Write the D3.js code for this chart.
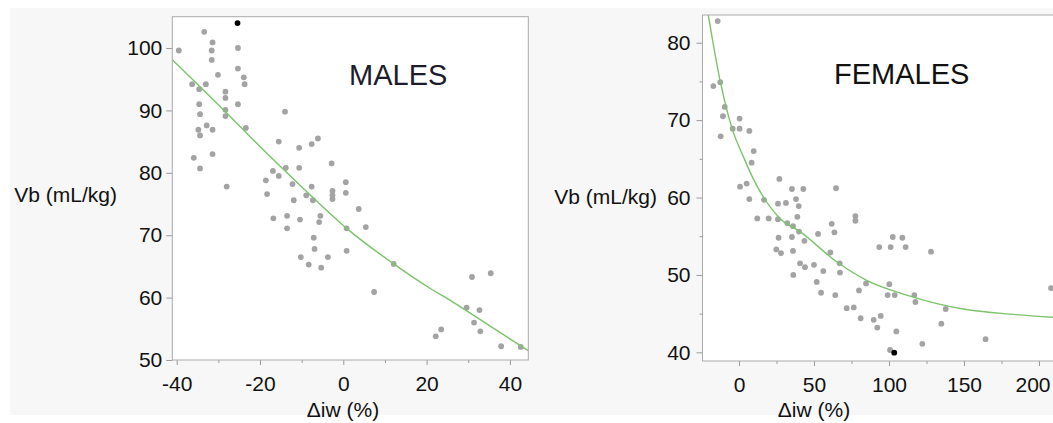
<!DOCTYPE html>
<html>
<head>
<meta charset="utf-8">
<script src="https://cdn.jsdelivr.net/npm/d3@7"></script>
<style>
  body { margin: 0; background: #fff; }
  text { font-family: "Liberation Sans", Arial, sans-serif; }
</style>
</head>
<body>
<svg id="chart" width="1053" height="423"></svg>
<script>
// ---- MALES data ----
var maleX = [-39.5, -33.4, -31.4, -31.6, -31.6, -30.1, -25.3, -25.3, -23.9, -23.7, -36.3, -34.6, -33.0, -28.3, -28.3,
  -28.3, -28.3, -34.6, -34.4, -25.3, -23.4, -34.8, -34.4, -32.8, -31.4, -35.9, -31.4, -34.4, -14.0, -15.5,
  -10.6, -7.6, -6.1, -13.8, -10.6, -2.8, -16.9, -18.6, -15.5, -12.2, -28.0, -7.6, 0.6, -18.3, 0.6,
  -2.6, -2.6, -2.6, -8.9, -11.9, -7.3, 3.7, -16.8, -13.5, -10.4, -5.5, -5.8, -13.5, 0.8, 5.4,
  -7.1, -6.9, 0.8, -10.2, -3.7, -8.3, -5.3, 12.1, 7.4, 30.9, 35.4, 29.6, 32.7, 31.4, 32.9,
  22.2, 23.5, 37.9, 42.6];
var maleY = [99.6, 102.6, 100.9, 99.6, 98.1, 95.7, 100.0, 96.7, 95.3, 94.2, 94.2, 93.4, 94.2, 93.0, 92.0,
  90.1, 89.1, 91.0, 89.4, 91.0, 87.2, 86.9, 86.0, 87.6, 86.9, 82.4, 83.0, 80.7, 89.8, 85.0,
  84.0, 84.6, 85.5, 80.8, 80.8, 81.5, 80.3, 78.8, 79.5, 78.2, 77.8, 77.8, 78.5, 76.6, 76.8,
  77.1, 76.4, 75.8, 76.4, 75.6, 75.6, 74.2, 72.7, 73.1, 72.5, 73.1, 72.1, 71.1, 71.1, 71.3,
  69.6, 67.8, 67.5, 66.5, 66.5, 65.3, 64.8, 65.4, 60.9, 63.3, 63.9, 58.4, 58.0, 56.0, 54.6,
  53.8, 54.9, 52.2, 52.1];
var maleHiX = [-25.4];
var maleHiY = [104.0];
var maleFitX = [-41, -28.3, -20, -9.6, 0.8, 12.1, 20.8, 25.6, 31.4, 44.4];
var maleFitY = [98.1, 89.8, 84.2, 77.5, 71.1, 65.4, 61.5, 59.6, 57.1, 51.5];
var maleXTicks = [-40, -20, 0, 20, 40];
var maleXMinor = [-30, -10, 10, 30];
var maleYTicks = [50, 60, 70, 80, 90, 100];
var maleYMinor = [];

// ---- FEMALES data ----
var femaleX = [-14.2, -17.1, -12.5, -9.5, -10.7, 0.4, -4.2, 0.4, 6.9, -12.2, 9.8, 8.4,
  0.7, 5.1, 6.9, 26.9, 35.3, 42.9, 64.7, 16.7, 26.0, 31.3, 38.0, 39.8, 12.2, 19.8, 26.0, 32.2, 36.0,
  38.9, 40.0, 35.3, 43.6, 52.7, 61.8, 63.6, 77.6, 77.6, 26.4, 24.9, 28.0, 36.0, 40.7, 44.0, 36.2,
  50.0, 56.2, 60.9, 67.1, 67.3, 51.8, 54.7, 64.2, 71.8, 76.5, 80.0, 84.7, 81.1, 89.8, 92.2, 94.5,
  93.5, 101.1, 102.5, 108.9, 111.1, 128.0, 100.2, 99.1, 103.8, 116.9, 117.6, 137.8, 134.9, 104.9,
  122.2, 164.4, 100.7, 208.0];
var femaleY = [82.8, 74.4, 74.9, 71.7, 70.5, 70.2, 68.9, 68.9, 68.6, 67.9, 66.0, 64.5,
  61.4, 61.8, 59.8, 62.4, 61.1, 61.1, 61.2, 59.7, 59.2, 59.3, 59.8, 58.9, 57.3, 57.3, 57.2, 56.7, 56.3,
  57.5, 55.6, 54.9, 54.4, 55.3, 56.6, 55.5, 57.6, 57.0, 54.8, 53.3, 52.8, 53.1, 51.5, 51.0, 50.0,
  51.3, 50.5, 52.9, 51.5, 50.3, 49.1, 47.7, 47.4, 45.7, 45.8, 48.0, 48.9, 44.4, 44.2, 43.2, 44.7,
  53.6, 53.6, 54.9, 54.8, 53.6, 53.0, 48.8, 47.4, 47.4, 47.4, 46.5, 45.6, 43.7, 42.7,
  41.1, 41.7, 40.3, 48.3];
var femaleHiX = [103.5];
var femaleHiY = [39.95];
var femaleFitX = [-20.5, -12.7, -4.9, 4, 6.2, 27.3, 40.7, 65.1, 85.1, 111.8, 149.5, 182.9, 212];
var femaleFitY = [83.6, 75.2, 69.1, 64.8, 63.8, 57.3, 55.6, 51.7, 49.3, 47.4, 45.6, 44.9, 44.5];
var femaleXTicks = [0, 50, 100, 150, 200];
var femaleXMinor = [25, 75, 125, 175];
var femaleYTicks = [40, 50, 60, 70, 80];
var femaleYMinor = [45, 55, 65, 75];

var svg = d3.select('#chart');
var W = 1053;

// plain hyphen minus like the original, not the unicode minus
function fmt(d) { return String(d); }

function drawPanel(p) {
  var g = svg.append('g');
  g.append('rect')
    .attr('x', p.bg[0]).attr('y', p.bg[1])
    .attr('width', p.bg[2]).attr('height', p.bg[3])
    .attr('fill', '#f7f7f7');

  var x = d3.scaleLinear().domain(p.xDomain).range([p.left, p.right]);
  var y = d3.scaleLinear().domain(p.yDomain).range([p.bottom, p.top]);

  var clipId = 'clip' + p.name;
  svg.append('clipPath').attr('id', clipId)
    .append('rect')
    .attr('x', p.left).attr('y', p.top)
    .attr('width', p.right - p.left).attr('height', p.bottom - p.top);

  g.append('rect')
    .attr('x', p.left).attr('y', p.top)
    .attr('width', p.right - p.left).attr('height', p.bottom - p.top)
    .attr('fill', '#fff');

  // axes
  var xa = g.append('g').attr('transform', 'translate(0,' + p.bottom + ')')
    .call(d3.axisBottom(x).tickValues(p.xTicks).tickSize(5).tickPadding(11).tickFormat(fmt));
  var xm = g.append('g').attr('transform', 'translate(0,' + p.bottom + ')')
    .call(d3.axisBottom(x).tickValues(p.xMinor).tickSize(3).tickFormat(''));
  var ya = g.append('g').attr('transform', 'translate(' + p.left + ',0)')
    .call(d3.axisLeft(y).tickValues(p.yTicks).tickSize(6).tickPadding(p.yPad).tickFormat(fmt));
  var ym = g.append('g').attr('transform', 'translate(' + p.left + ',0)')
    .call(d3.axisLeft(y).tickValues(p.yMinor).tickSize(3).tickFormat(''));
  [xa, xm, ya, ym].forEach(function (a) {
    a.select('.domain').remove();
    a.selectAll('line').attr('stroke', '#9a9a9a');
    a.selectAll('text').attr('font-size', 21).attr('fill', '#111')
      .style('font-family', '"Liberation Sans", Arial, sans-serif');
  });

  // keep x labels inside the window (the original pulls the last one in)
  xa.selectAll('.tick text').each(function (d) {
    var bb = this.getBBox();
    var over = x(d) + bb.width / 2 - (W - 3);
    if (over > 0) d3.select(this).attr('x', -over);
  });

  var plot = g.append('g').attr('clip-path', 'url(#' + clipId + ')');

  var pts = p.xs.map(function (d, i) { return [d, p.ys[i]]; });
  plot.selectAll('circle.pt').data(pts).enter().append('circle')
    .attr('class', 'pt')
    .attr('cx', function (d) { return x(d[0]); })
    .attr('cy', function (d) { return y(d[1]); })
    .attr('r', 2.9)
    .attr('fill', '#a3a3a3');

  var fit = p.fitX.map(function (d, i) { return [d, p.fitY[i]]; });
  plot.append('path')
    .datum(fit)
    .attr('fill', 'none')
    .attr('stroke', '#7cc36b')
    .attr('stroke-width', 1.4)
    .attr('d', d3.line().x(function (d) { return x(d[0]); }).y(function (d) { return y(d[1]); })
      .curve(d3.curveMonotoneX));

  var hi = p.hiX.map(function (d, i) { return [d, p.hiY[i]]; });
  plot.selectAll('circle.hi').data(hi).enter().append('circle')
    .attr('class', 'hi')
    .attr('cx', function (d) { return x(d[0]); })
    .attr('cy', function (d) { return y(d[1]); })
    .attr('r', 2.9)
    .attr('fill', '#000');

  // frame
  g.append('rect')
    .attr('x', p.left).attr('y', p.top)
    .attr('width', p.right - p.left).attr('height', p.bottom - p.top)
    .attr('fill', 'none').attr('stroke', '#ababab').attr('stroke-width', 1);

  g.append('text')
    .attr('x', p.titleX).attr('y', p.titleY)
    .attr('font-size', 29).attr('fill', p.titleColor)
    .text(p.title);

  g.append('text')
    .attr('x', p.yLabX).attr('y', p.yLabY)
    .attr('text-anchor', 'end').attr('dy', '0.35em')
    .attr('font-size', 21).attr('fill', '#111')
    .text('Vb (mL/kg)');

  g.append('text')
    .attr('x', (p.xLabX)).attr('y', 410)
    .attr('text-anchor', 'middle').attr('dy', '0.35em')
    .attr('font-size', 21).attr('fill', '#111')
    .text('\u0394iw (%)');
}

drawPanel({
  name: 'm', bg: [10, 8, 535, 407],
  left: 172.3, right: 528.3, top: 16.7, bottom: 360,
  xDomain: [-41.06, 44.42], yDomain: [50, 105.02],
  xTicks: maleXTicks, xMinor: maleXMinor, yTicks: maleYTicks, yMinor: maleYMinor, yPad: 4,
  xs: maleX, ys: maleY, hiX: maleHiX, hiY: maleHiY, fitX: maleFitX, fitY: maleFitY,
  title: 'MALES', titleX: 349, titleY: 85, titleColor: '#1c1c2c',
  yLabX: 117, yLabY: 195, xLabX: 343
});

drawPanel({
  name: 'f', bg: [545, 8, 508, 407],
  left: 702.5, right: 1056, top: 15, bottom: 361,
  xDomain: [-24.33, 211.33], yDomain: [38.88, 83.58],
  xTicks: femaleXTicks, xMinor: femaleXMinor, yTicks: femaleYTicks, yMinor: femaleYMinor, yPad: 6,
  xs: femaleX, ys: femaleY, hiX: femaleHiX, hiY: femaleHiY, fitX: femaleFitX, fitY: femaleFitY,
  title: 'FEMALES', titleX: 834, titleY: 84, titleColor: '#111',
  yLabX: 657, yLabY: 197, xLabX: 814
});
</script>
</body>
</html>
